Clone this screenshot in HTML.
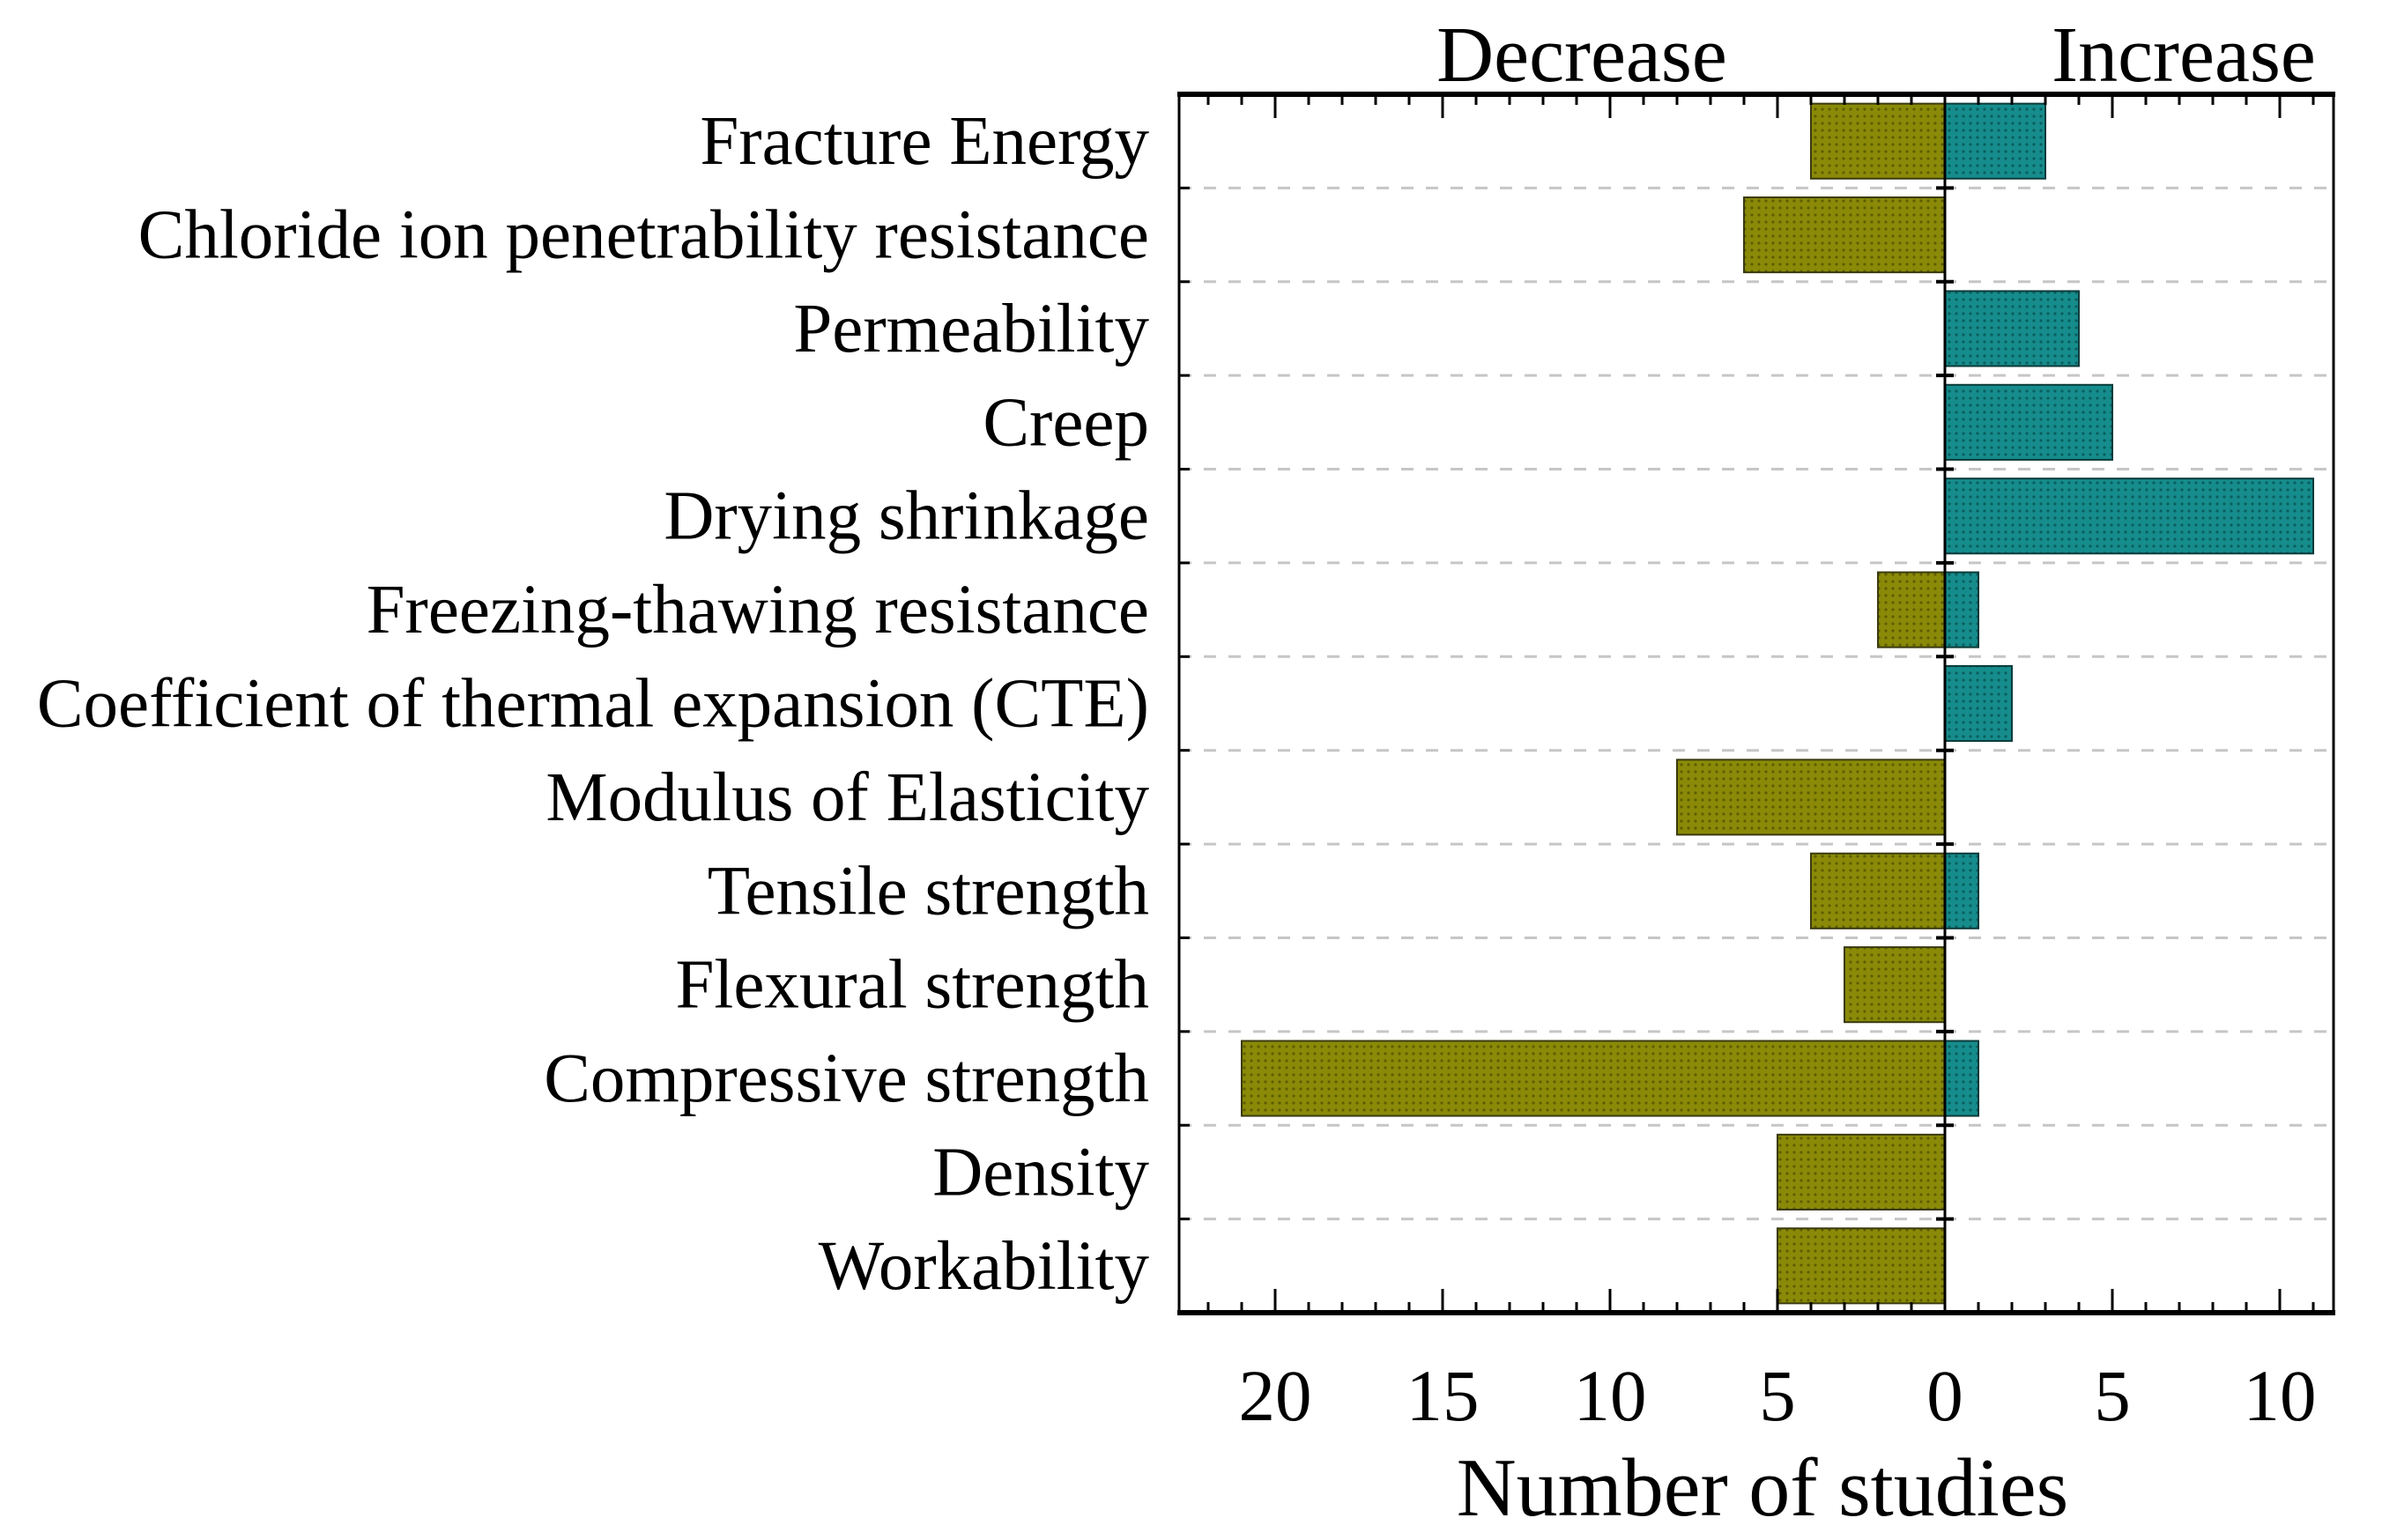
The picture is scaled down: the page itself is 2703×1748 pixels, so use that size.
<!DOCTYPE html>
<html><head><meta charset="utf-8"><style>
html,body{margin:0;padding:0;background:#fff;}
svg{display:block;font-family:"Liberation Serif",serif;}
</style></head><body>
<svg id="chart" width="2703" height="1748" viewBox="0 0 2703 1748" xmlns="http://www.w3.org/2000/svg">
<defs>
<pattern id="dotsO" width="8" height="8" patternUnits="userSpaceOnUse"><rect width="8" height="8" fill="#8a8a08"/><circle cx="4" cy="4" r="1.6" fill="#5e5e00"/></pattern>
<pattern id="dotsT" width="8" height="8" patternUnits="userSpaceOnUse"><rect width="8" height="8" fill="#168c8c"/><circle cx="4" cy="4" r="1.6" fill="#0b5e5e"/></pattern>
</defs>
<g id="grid"></g>
<g id="bars"></g>
<g id="axes"></g>
<g id="labels"></g>
<text x="1795" y="92" font-size="90" text-anchor="middle">Decrease</text>
<text x="2478" y="92" font-size="90" text-anchor="middle">Increase</text>
<text x="2000" y="1720" font-size="94" text-anchor="middle">Number of studies</text>
</svg>
<script>
const categories = ["Fracture Energy","Chloride ion penetrability resistance","Permeability","Creep","Drying shrinkage","Freezing-thawing resistance","Coefficient of thermal expansion (CTE)","Modulus of Elasticity","Tensile strength","Flexural strength ","Compressive strength","Density","Workability "];
const decreaseValues = [4,6,0,0,0,2,0,8,4,3,21,5,5];
const increaseValues = [3,0,4,5,11,1,2,0,1,0,1,0,0];
const tickValues = [-20,-15,-10,-5,0,5,10];
const tickLabels = ["20","15","10","5","0","5","10"];

const NS = "http://www.w3.org/2000/svg";
const L = 1338, R = 2648, T = 107, B = 1490, ZERO = 2207, UNIT = 38.0;
const xs = v => ZERO + v * UNIT;
const rowH = (B - T) / categories.length;
const ys = i => T + i * rowH;
function mk(tag, attrs, parent){const e=document.createElementNS(NS,tag);for(const k in attrs)e.setAttribute(k,attrs[k]);parent.appendChild(e);return e;}
const grid=document.getElementById('grid'), bars=document.getElementById('bars'), axes=document.getElementById('axes'), labels=document.getElementById('labels');

for(let i=1;i<categories.length;i++){
  const g=mk('line',{x1:L,x2:R,y1:ys(i),y2:ys(i),stroke:'#c6c6c6','stroke-width':3,'stroke-dasharray':'14 14'},grid);
  
  
}
const bh = rowH*0.8;
categories.forEach((c,i)=>{
  const y = ys(i) + (rowH-bh)/2;
  if(decreaseValues[i]>0){
    const r=mk('rect',{x:xs(-decreaseValues[i]),y:y,width:xs(0)-xs(-decreaseValues[i]),height:bh,fill:'url(#dotsO)',stroke:'#3a3a10','stroke-width':2},bars);
    
    
  }
  if(increaseValues[i]>0){
    const r=mk('rect',{x:xs(0),y:y,width:xs(increaseValues[i])-xs(0),height:bh,fill:'url(#dotsT)',stroke:'#0c3a3a','stroke-width':2},bars);
    
    
  }
  const t=mk('text',{x:1304,y:ys(i)+rowH/2+26,'font-size':79,'text-anchor':'end'},labels);
  t.textContent=c;
  
  
});
mk('line',{x1:L,x2:L,y1:T,y2:B,stroke:'#000','stroke-width':3},axes);
mk('line',{x1:R,x2:R,y1:T,y2:B,stroke:'#000','stroke-width':3},axes);
mk('line',{x1:L-2,x2:R+2,y1:T,y2:T,stroke:'#000','stroke-width':6},axes);
mk('line',{x1:L-2,x2:R+2,y1:B,y2:B,stroke:'#000','stroke-width':6},axes);
mk('line',{x1:xs(0),x2:xs(0),y1:T,y2:B,stroke:'#000','stroke-width':3},axes);
for(let v=-22; v<=11; v++){
  const major = v%5===0;
  const len = major?27:12;
  mk('line',{x1:xs(v),x2:xs(v),y1:T,y2:T+len,stroke:'#000','stroke-width':3},axes);
  mk('line',{x1:xs(v),x2:xs(v),y1:B,y2:B-len,stroke:'#000','stroke-width':3},axes);
}
for(let i=1;i<categories.length;i++){
  mk('line',{x1:L,x2:L+12,y1:ys(i),y2:ys(i),stroke:'#000','stroke-width':3},axes);
  mk('line',{x1:xs(0)-10,x2:xs(0)+10,y1:ys(i),y2:ys(i),stroke:'#000','stroke-width':4},axes);
}
tickValues.forEach((v,i)=>{
  const t=mk('text',{x:xs(v),y:1612,'font-size':83,'text-anchor':'middle'},axes);
  t.textContent=tickLabels[i];
  
  
});
</script>
</body></html>
